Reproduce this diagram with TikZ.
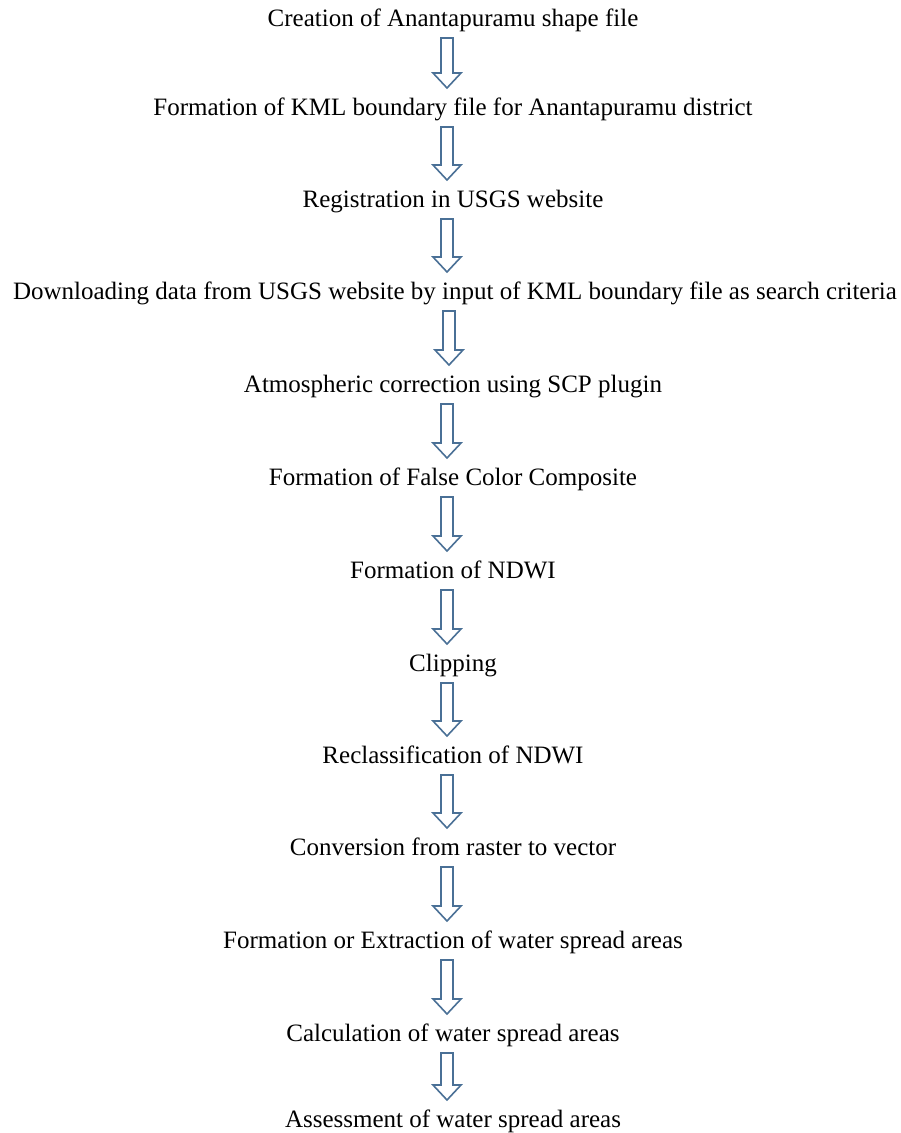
\documentclass[tikz,border=0pt]{standalone}
\usepackage{fontspec}
\setmainfont{Liberation Serif}
\usetikzlibrary{calc}
\definecolor{arrowblue}{RGB}{74,112,150}

\tikzset{
  step text/.style={font=\fontsize{25}{30}\selectfont, inner sep=0pt, anchor=base},
  hollow arrow/.style={draw=arrowblue, fill=white, line width=1.6pt, line join=miter}
}
% hollow block arrow from the step above down to the step below
\newcommand{\flowarrow}[2]{
  \draw[hollow arrow] let \p1=($(#1.base)+(-6pt,-12pt)$), \p2=($(#2.base)+(-6pt,27pt)$) in
    (\x1-6pt,\y1) -- (\x1+6pt,\y1) -- (\x1+6pt,\y2+15pt) -- (\x1+14pt,\y2+15pt)
    -- (\x1,\y2) -- (\x1-14pt,\y2+15pt) -- (\x1-6pt,\y2+15pt) -- cycle;
}

\begin{document}
\begin{tikzpicture}[x=1pt,y=1pt]
  \useasboundingbox (0,0) rectangle (901,-1133);

  \node[step text] (s1)  at (453,-26)   {Creation of Anantapuramu shape file};
  \node[step text] (s2)  at (453,-115)  {Formation of KML boundary file for Anantapuramu district};
  \node[step text] (s3)  at (453,-207)  {Registration in USGS website};
  \node[step text] (s4)  at (455,-299)  {Downloading data from USGS website by input of KML boundary file as search criteria};
  \node[step text] (s5)  at (453,-392)  {Atmospheric correction using SCP plugin};
  \node[step text] (s6)  at (453,-485)  {Formation of False Color Composite};
  \node[step text] (s7)  at (453,-578)  {Formation of NDWI};
  \node[step text] (s8)  at (453,-671)  {Clipping};
  \node[step text] (s9)  at (453,-763)  {Reclassification of NDWI};
  \node[step text] (s10) at (453,-855)  {Conversion from raster to vector};
  \node[step text] (s11) at (453,-948)  {Formation or Extraction of water spread areas};
  \node[step text] (s12) at (453,-1041) {Calculation of water spread areas};
  \node[step text] (s13) at (453,-1127) {Assessment of water spread areas};

  \foreach \a/\b in {s1/s2,s2/s3,s3/s4,s4/s5,s5/s6,s6/s7,s7/s8,s8/s9,s9/s10,s10/s11,s11/s12,s12/s13}
    \flowarrow{\a}{\b};
\end{tikzpicture}
\end{document}
